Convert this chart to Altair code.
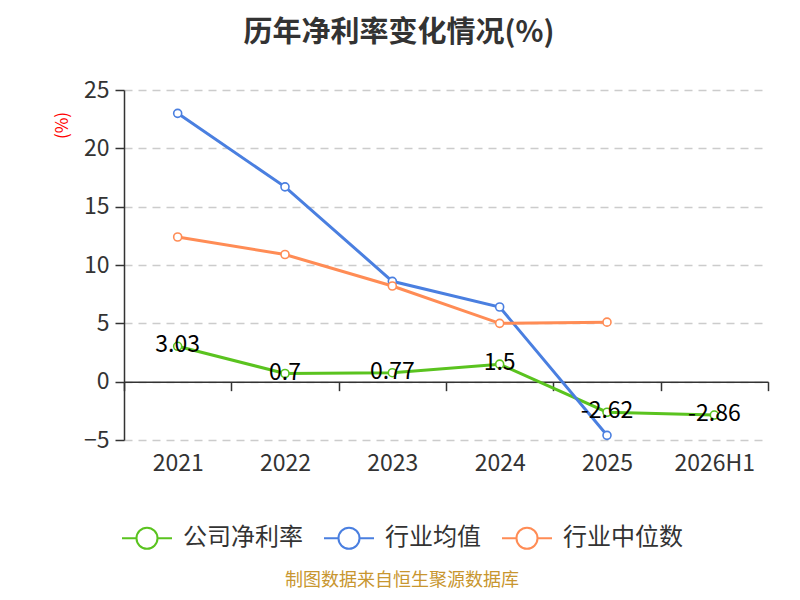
import altair as alt
import pandas as pd

periods = ["2021", "2022", "2023", "2024", "2025", "2026H1"]
series_names = ["公司净利率", "行业均值", "行业中位数"]
company = [3.03, 0.7, 0.77, 1.5, -2.62, -2.86]
industry_avg = [23.0, 16.7, 8.6, 6.4, -4.6, None]
industry_median = [12.4, 10.9, 8.2, 5.0, 5.1, None]
colors = ["#5ac31f", "#4a7fe0", "#ff8c55"]
y_ticks = [-5, 0, 5, 10, 15, 20, 25]
title_text = "历年净利率变化情况(%)"
source_text = "制图数据来自恒生聚源数据库"

rows = []
for name, vals in zip(series_names, [company, industry_avg, industry_median]):
    for p, v in zip(periods, vals):
        if v is not None:
            rows.append({"period": p, "series": name, "value": v})
df = pd.DataFrame(rows)

label_df = pd.DataFrame({"period": periods, "value": company,
                         "label": [str(v) for v in company]})

FONT = "Noto Sans CJK SC"
W, H = 644, 350
zero_offset = -H * (0 - (-5)) / (25 - (-5))

legend_symbol = ("M-1,0L-0.42,0M0.42,0L1,0"
                 "M-0.42,0A0.42,0.42,0,1,1,0.42,0A0.42,0.42,0,1,1,-0.42,0Z")

x_enc = alt.X(
    "period:N", sort=periods,
    scale=alt.Scale(type="band", paddingInner=0, paddingOuter=0),
    bandPosition=0.5,
    axis=alt.Axis(title=None, labelAngle=0, tickBand="extent",
                  domain=True, domainColor="#333333", domainWidth=1.5,
                  ticks=True, tickColor="#333333", tickSize=9, tickWidth=1.5,
                  offset=zero_offset, labelPadding=62, labelFontSize=23,
                  labelColor="#333333", grid=False, labelFont=FONT),
)
y_enc = alt.Y(
    "value:Q",
    scale=alt.Scale(domain=[-5, 25], nice=False, zero=False),
    axis=alt.Axis(values=y_ticks, title="(%)", titleColor="red",
                  titleFontSize=17, titleFontWeight="normal", titleAngle=270,
                  titleX=-62, titleY=35, titleAlign="center",
                  titleBaseline="middle", titleFont=FONT,
                  domain=True, domainColor="#333333", domainWidth=1.5,
                  ticks=True, tickColor="#333333", tickSize=9, tickWidth=1.5,
                  labelFontSize=23, labelColor="#333333", labelPadding=6,
                  labelFont=FONT,
                  grid=True, gridDash=[8, 6], gridColor="#cccccc",
                  gridWidth=1.5),
)
color_enc = alt.Color(
    "series:N", sort=series_names,
    scale=alt.Scale(domain=series_names, range=colors),
    legend=alt.Legend(
        title=source_text, titleOrient="bottom", titleAnchor="middle",
        titleFontSize=18, titleColor="#c8962f", titleFontWeight="normal",
        titleFont=FONT, titlePadding=19, titleLimit=500,
        orient="none", legendX=-3, legendY=422, direction="horizontal",
        symbolType=legend_symbol, symbolSize=2500, symbolStrokeWidth=2,
        symbolFillColor="white",
        labelFontSize=24, labelColor="#333333", labelFont=FONT,
        labelOffset=10, columnPadding=17, labelLimit=300,
    ),
)

base = alt.Chart(df)
lines = base.mark_line(strokeWidth=3).encode(x=x_enc, y=y_enc, color=color_enc)
points = base.mark_point(shape="circle", size=64, fill="white", fillOpacity=1,
                         strokeWidth=1.6, opacity=1).encode(
    x=x_enc, y=y_enc, color=color_enc)
labels = alt.Chart(label_df).mark_text(
    fontSize=23, color="black", align="center", baseline="middle", dy=-1,
    font=FONT).encode(x=x_enc, y=y_enc, text="label:N")

chart = alt.layer(lines, points, labels).properties(
    width=W, height=H,
    background="white",
    title=alt.TitleParams(title_text, fontSize=29, fontWeight="bold",
                          color="#333333", anchor="middle", dx=-47,
                          offset=31, font=FONT),
    padding={"left": 116, "top": 82, "right": 24, "bottom": 152},
    autosize=alt.AutoSizeParams(type="none"),
).configure_view(stroke=None)

chart.save("out.html", embed_options={"renderer": "svg", "actions": False})
